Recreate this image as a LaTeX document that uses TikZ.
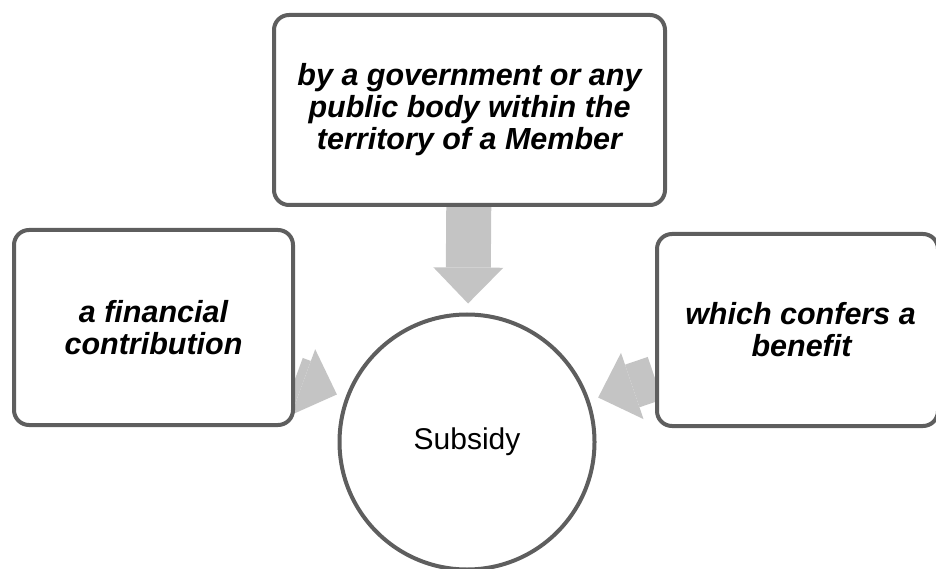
\documentclass[tikz,border=0pt]{standalone}
\usepackage{fontspec}
\setmainfont{Liberation Sans}
\usetikzlibrary{arrows.meta,backgrounds}
\definecolor{bordergray}{HTML}{5E5E5E}
\definecolor{arrowgray}{HTML}{C4C4C4}
\tikzset{
  box/.style={draw=bordergray, line width=4pt, rounded corners=15pt, fill=white,
    align=center, inner sep=0pt, font=\fontsize{30.5}{32}\selectfont\bfseries\itshape},
  hub/.style={circle, draw=bordergray, line width=4pt, fill=white, inner sep=0pt,
    minimum size=255pt, font=\fontsize{30}{36}\selectfont},
  blockarrow/.style={draw=arrowgray, line width=45pt,
    -{Triangle[width=70pt,length=36pt,line width=0pt]}, shorten >=9pt}
}
\begin{document}
\begin{tikzpicture}[x=1pt,y=1pt]
\useasboundingbox (0,0) rectangle (936,568);
\clip (0,0) rectangle (936,568);
\node[box, minimum width=391pt, minimum height=190pt] (top) at (469.5,458)
  {by a government or any\\public body within the\\territory of a Member};
\node[box, minimum width=279pt, minimum height=195pt] (left) at (153.5,240.5)
  {a financial\\contribution};
\node[box, minimum width=281pt, minimum height=192pt] (right) at (797.5,238)
  {\hspace*{6pt}which confers a\\\hspace*{8pt}benefit};
\node[hub] (sub) at (467,126) {Subsidy};
\begin{scope}[on background layer]
\draw[blockarrow] (top) -- (sub);
\draw[blockarrow] (left) -- (sub);
\draw[blockarrow] (right) -- (sub);
\end{scope}
\end{tikzpicture}
\end{document}
